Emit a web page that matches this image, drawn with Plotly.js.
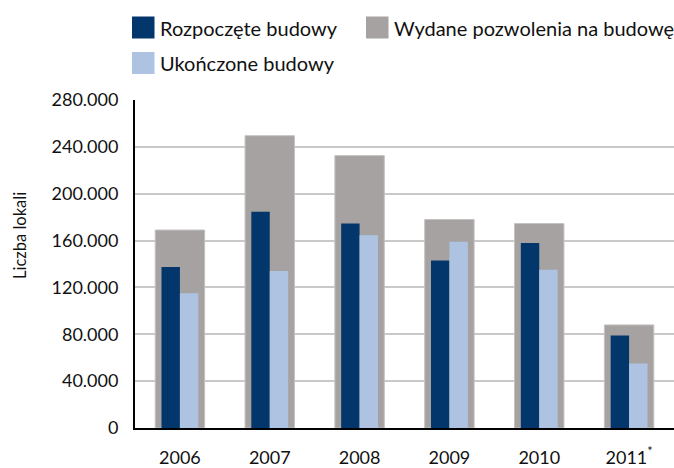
<!DOCTYPE html>
<html>
<head>
<meta charset="utf-8">
<script src="https://cdn.plot.ly/plotly-3.0.1.min.js"></script>
<style>html,body{margin:0;padding:0;background:#fff;}#chart{width:674px;height:468px;}</style>
</head>
<body>
<div id="chart"></div>
<script>
// ---- data ----
var years = ['2006', '2007', '2008', '2009', '2010', '2011'];
var yearLabels = ['2006', '2007', '2008', '2009', '2010', '2011<sup>*</sup>'];
var permits = [169000, 249500, 232500, 178000, 174500, 88000];     // Wydane pozwolenia na budowę
var started = [137500, 184500, 174500, 143000, 158000, 79000];     // Rozpoczęte budowy
var completed = [115000, 134000, 164500, 159000, 135000, 55000];   // Ukończone budowy
var yTicks = [0, 40000, 80000, 120000, 160000, 200000, 240000, 280000];

var nameStarted = 'Rozpoczęte budowy';
var namePermits = 'Wydane pozwolenia na budowę';
var nameCompleted = 'Ukończone budowy';

var colStarted = '#03366a';
var colPermits = '#a6a2a1';
var colCompleted = '#adc3e1';

// ---- layout geometry ----
var W = 674, H = 468;
var M = {l: 135, r: 0, t: 100, b: 40};
var pw = W - M.l - M.r, ph = H - M.t - M.b;
function px(x) { return (x - M.l) / pw; }
function py(y) { return (H - M.b - y) / ph; }

var font = 'Lato, "Open Sans", sans-serif';

var traces = [
  {type: 'bar', x: years, y: permits, name: namePermits, width: 0.55,
   marker: {color: colPermits, line: {color: '#c4c1c0', width: 1}}, hoverinfo: 'x+y'},
  {type: 'bar', x: years, y: started, name: nameStarted, width: 0.205, offset: -0.205,
   marker: {color: colStarted, line: {width: 0}}, hoverinfo: 'x+y'},
  {type: 'bar', x: years, y: completed, name: nameCompleted, width: 0.205, offset: 0,
   marker: {color: colCompleted, line: {width: 0}}, hoverinfo: 'x+y'}
];

// manual legend (large swatches)
var legendItems = [
  {name: nameStarted, color: colStarted, x: 132, y: 16.5},
  {name: namePermits, color: colPermits, x: 366, y: 16.5},
  {name: nameCompleted, color: colCompleted, x: 132, y: 52}
];
var shapes = [], annotations = [];
legendItems.forEach(function (it) {
  shapes.push({type: 'rect', xref: 'paper', yref: 'paper',
    x0: px(it.x), x1: px(it.x + 22.5), y0: py(it.y + 22), y1: py(it.y),
    fillcolor: it.color, line: {width: 0}, layer: 'above'});
  annotations.push({xref: 'paper', yref: 'paper', x: px(it.x + 25.5), y: py(it.y + 11.5),
    xanchor: 'left', yanchor: 'middle', showarrow: false, text: it.name,
    font: {family: font, size: 20, color: '#111'}});
});
annotations.push({xref: 'paper', yref: 'paper', x: px(20), y: py(236), textangle: -90,
  xanchor: 'center', yanchor: 'middle', showarrow: false, text: 'Liczba lokali',
  font: {family: font, size: 16.5, color: '#111'}});

var layout = {
  width: W, height: H,
  margin: M,
  paper_bgcolor: '#fff', plot_bgcolor: '#fff',
  separators: ',.',
  barmode: 'overlay',
  showlegend: false,
  font: {family: font, size: 18, color: '#111'},
  xaxis: {
    type: 'category', tickvals: years, ticktext: yearLabels,
    showline: true, linecolor: '#000', linewidth: 2,
    showgrid: false, ticks: '', ticklabelstandoff: 12,
    tickfont: {family: font, size: 18, color: '#111'}
  },
  yaxis: {
    range: [0, 280000], tickvals: yTicks, tickformat: ',d',
    showline: true, linecolor: '#000', linewidth: 2,
    showgrid: true, gridcolor: '#c9c9c9', gridwidth: 2,
    zeroline: false, ticks: '', ticklabelstandoff: 11,
    tickfont: {family: font, size: 18, color: '#111'}
  },
  shapes: shapes,
  annotations: annotations
};

Plotly.newPlot('chart', traces, layout, {displayModeBar: false, staticPlot: true});
</script>
</body>
</html>
